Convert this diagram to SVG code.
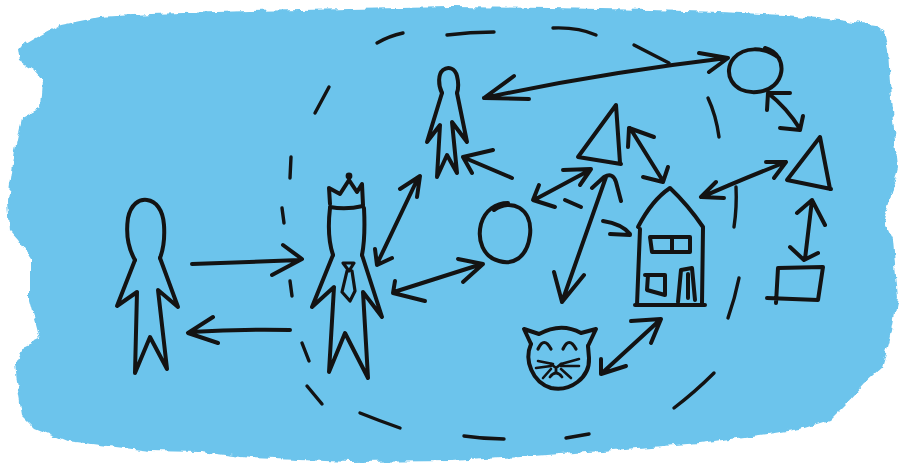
<svg xmlns="http://www.w3.org/2000/svg" width="902" height="463" viewBox="0 0 902 463">
  <defs>
    <filter id="brush" x="-5%" y="-5%" width="110%" height="110%">
      <feTurbulence type="fractalNoise" baseFrequency="0.09" numOctaves="3" seed="4" result="n"/>
      <feDisplacementMap in="SourceGraphic" in2="n" scale="7" xChannelSelector="R" yChannelSelector="G"/>
    </filter>
    <style>
      .ink { fill: none; stroke: #131313; stroke-width: 4; stroke-linecap: round; stroke-linejoin: round; }
      .dash { fill: none; stroke: #131313; stroke-width: 3.4; stroke-linecap: round; }
      .dot { fill: #131313; }
    </style>
  </defs>

  <rect width="902" height="463" fill="#ffffff"/>

  <!-- painted backdrop -->
  <path filter="url(#brush)" fill="#6cc4ec" d="M18,48 L35,38 L60,25 L100,17 L150,14 L250,11 L350,9 L451,7 L550,8 L650,10 L720,12 L784,15 L840,20 L875,25 L884,32 L888,50 L891,100 L895,140 L898,167 L890,200 L884,220 L893,240 L898,298 L890,340 L882,368 L864,384 L846,404 L830,420 L800,429 L768,434 L700,443 L601,451 L520,457 L451,461 L350,462 L250,458 L200,452 L150,451 L100,445 L67,441 L35,428 L22,415 L18,390 L15,364 L25,345 L40,338 L30,300 L30,258 L18,240 L10,231 L8,200 L15,150 L22,118 L40,108 L42,80 L33,70 L20,62 Z"/>

  <!-- dashed boundary -->
  <g id="boundary">
    <path class="dash" d="M377,43 Q389,36 403,33"/>
    <path class="dash" d="M447,35 Q470,32 494,32"/>
    <path class="dash" d="M553,28 Q578,27 596,35"/>
    <path class="dash" d="M634,45 L669,63"/>
    <path class="dash" d="M708,98 Q716,115 719,137"/>
    <path class="dash" d="M736,187 Q737,207 734,227"/>
    <path class="dash" d="M739,278 Q735,298 728,318"/>
    <path class="dash" d="M714,373 Q695,392 674,408"/>
    <path class="dash" d="M589,434 L566,438"/>
    <path class="dash" d="M464,436 Q484,439 504,439"/>
    <path class="dash" d="M360,413 Q380,421 400,428"/>
    <path class="dash" d="M307,386 L322,404"/>
    <path class="dash" d="M302,343 L309,361"/>
    <path class="dash" d="M290,281 L292,296"/>
    <path class="dash" d="M282,208 L284,223"/>
    <path class="dash" d="M291,157 L290,178"/>
    <path class="dash" d="M315,113 L329,87"/>
  </g>

  <!-- connectors -->
  <g id="connectors" class="ink">
    <path d="M192,264 L300,260 M283,245 L302,259 L272,275"/>
    <path d="M290,330 Q240,329 190,332 M213,317 L188,333 L218,343"/>
    <path d="M377,264 L418,178 M375,249 L377,265 L392,258 M400,189 L420,176 L417,197"/>
    <path d="M394,292 L482,264 M395,281 L393,293 L425,301 M458,259 L483,264 L463,282"/>
    <path d="M484,98 Q600,73 727,58 M514,76 L484,98 L529,99 M699,53 L728,58 L709,72"/>
    <path d="M512,178 L465,158 M493,150 L463,157 L472,173"/>
    <path d="M534,200 L590,170 M539,185 L533,200 L555,207 M563,170 L591,169 L580,185"/>
    <path d="M565,200 L581,207 M603,221 Q622,224 630,234 M610,234 L630,235"/>
    <path d="M562,302 L606,177 M554,272 L562,302 L584,275 M592,188 L604,177 Q613,172 616,182 L621,201"/>
    <path d="M630,128 L663,181 M654,137 L629,128 L628,147 M668,167 L663,182 L643,177"/>
    <path d="M601,374 L661,319 M601,359 L601,374 L626,366 M631,321 L661,319 L651,343"/>
    <path d="M702,197 Q740,180 786,162 M716,182 L701,197 L724,198 M766,162 L786,162 L774,178"/>
    <path d="M768,93 Q787,108 800,129 M790,93 L768,93 L767,110 M803,116 L800,130 L780,128"/>
    <path d="M812,200 L805,259 M797,213 L812,200 L825,225 M790,247 L804,260 L818,253"/>
  </g>

  <!-- person on the left -->
  <g id="person-left" class="ink">
    <path d="M135,260 C128,248 126,232 128,218 C131,204 139,199 147,200 C156,201 163,210 164,225 C165,240 163,250 160,258"/>
    <path d="M135,260 L117,306 L137,292 L135,373 L150,337 L167,369 L158,290 L178,307 L160,258"/>
  </g>

  <!-- crowned figure -->
  <g id="king">
    <circle class="dot" cx="349" cy="176" r="3.4"/>
    <g class="ink">
      <path d="M330,204 L329,188 L340,194 L349,180 L357,192 L362,184 L363,205"/>
      <path d="M330,207 Q346,210 363,206"/>
      <path d="M330,208 C328,225 329,243 333,255 M364,208 C365,228 364,245 362,255"/>
      <path d="M333,255 L312,307 L334,287 L329,372 L345,333 L368,378 L363,292 L382,317 L362,255"/>
      <path d="M343,263 L354,263 L349,271 Z M347,271 L342,292 L350,301 L355,291 L352,271" stroke-width="3.2"/>
    </g>
  </g>

  <!-- small figure at the top -->
  <g id="person-top" class="ink">
    <path d="M442,93 C438,85 438,74 443,70 C448,66 455,68 457,76 C459,84 458,90 457,93"/>
    <path d="M442,93 L427,142 L440,125 L437,177 L447,155 L457,173 L452,122 L467,142 L457,93"/>
  </g>

  <!-- middle circle -->
  <g id="circle-mid" class="ink">
    <path d="M494,210 C511,198 533,208 530,235 C527,259 512,265 499,261 C483,257 477,240 481,224 C485,210 496,203 508,203"/>
  </g>

  <!-- triangle left -->
  <g id="triangle-left" class="ink">
    <path d="M620,163 L616,105 L578,157 L621,164"/>
  </g>

  <!-- house -->
  <g id="house" class="ink">
    <path d="M638,227 Q652,200 670,188 Q688,205 703,227"/>
    <path d="M640,229 L637,305 M703,228 L702,303 M635,305 L705,305"/>
    <path d="M650,237 L690,237 L690,252 L652,252 Z M672,238 L672,252"/>
    <path d="M645,275 L665,275 L665,295 L647,290 L648,275"/>
    <path d="M678,302 L681,270 L692,268 L695,300 M688,274 L688,298"/>
  </g>

  <!-- cat -->
  <g id="cat" class="ink">
    <path d="M531,344 C524,360 532,382 551,388 C570,392 590,378 589,358 L588,346"/>
    <path d="M531,344 L524,329 L539,334 Q561,322 581,333 L596,329 L588,346"/>
    <path d="M538,349 Q544,336 551,349 M563,349 Q569,336 576,349" stroke-width="3.2"/>
    <path d="M551,364 L556,368 L561,364 M556,368 L556,373 M550,377 Q553,373 556,373 Q559,373 562,377" stroke-width="2.8"/>
    <path d="M538,361 L553,364 M536,368 L551,366 M543,378 L551,369 M561,364 L579,359 M561,366 L579,366 M561,369 L571,378" stroke-width="2.6"/>
  </g>

  <!-- circle top right -->
  <g id="circle-right" class="ink">
    <path d="M765,48 C790,55 786,90 757,92 C732,94 722,72 734,58 C744,47 763,46 779,58"/>
  </g>

  <!-- triangle right -->
  <g id="triangle-right" class="ink">
    <path d="M830,189 L820,137 L787,180 L831,189"/>
  </g>

  <!-- box -->
  <g id="box" class="ink">
    <path d="M778,268 L823,267 L818,300 L767,298 M778,268 L776,303"/>
  </g>
</svg>
